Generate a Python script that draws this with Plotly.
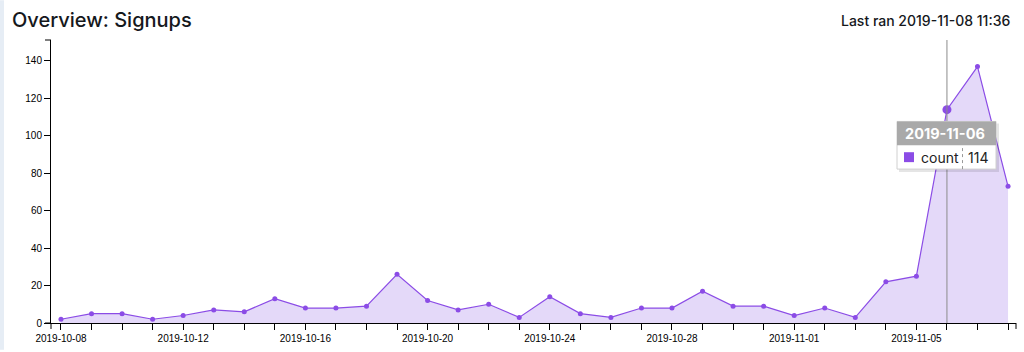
import plotly.graph_objects as go
import pandas as pd

dates = pd.date_range("2019-10-08", "2019-11-08", freq="D").strftime("%Y-%m-%d").tolist()
counts = [2, 5, 5, 2, 4, 7, 6, 13, 8, 8, 9, 26, 12, 7, 10, 3, 14, 5, 3, 8, 8, 17,
          9, 9, 4, 8, 3, 22, 25, 114, 137, 73]
hover_date = "2019-11-06"
hover_idx = dates.index(hover_date)

W, H = 1024, 352
L, R, T, B = 51, 8, 40, 27
PW, PH = W - L - R, H - T - B

def px(x):
    return (x - L) / PW

def py(y):
    return 1 - (y - T) / PH

LINE = "#8b4ce6"
FILL = "rgba(196,170,242,0.45)"
FONT = "Liberation Sans, Arial, sans-serif"
UI = "Inter, Roboto, sans-serif"

fig = go.Figure()
fig.add_trace(go.Scatter(
    x=dates, y=counts, mode="lines+markers", fill="tozeroy",
    fillcolor=FILL, line=dict(color=LINE, width=1.2),
    marker=dict(color=LINE, size=5), hoverinfo="skip", showlegend=False))
fig.add_trace(go.Scatter(
    x=[dates[hover_idx]], y=[counts[hover_idx]], mode="markers",
    marker=dict(color=LINE, size=9), hoverinfo="skip", showlegend=False))

shapes = []
# left strip
shapes.append(dict(type="rect", xref="paper", yref="paper", x0=px(0), x1=px(4),
                   y0=py(352), y1=py(0), fillcolor="#e6edf5", line_width=0, layer="below"))
# hover vertical line
shapes.append(dict(type="line", xref="x", yref="paper", x0=hover_date, x1=hover_date,
                   y0=0, y1=1, line=dict(color="#8c8c8c", width=1)))
# outer axis ticks (d3 style)
for s in [
    dict(x0=px(45), x1=0, y0=1, y1=1),
    dict(x0=px(45), x1=0, y0=0, y1=0),
    dict(x0=1, x1=1, y0=0, y1=py(331)),
    dict(x0=0, x1=0, y0=0, y1=py(331)),
]:
    shapes.append(dict(type="line", xref="paper", yref="paper", line=dict(color="#000", width=1), **s))

# tooltip
tx0, tx1, ty0, ty1, ty2 = 897, 996, 122, 146, 170
shapes.append(dict(type="rect", xref="paper", yref="paper", x0=px(tx0 + 2), x1=px(tx1 + 3),
                   y0=py(ty2 + 3), y1=py(ty0 + 2), fillcolor="rgba(0,0,0,0.10)", line_width=0))
shapes.append(dict(type="rect", xref="paper", yref="paper", x0=px(tx0), x1=px(tx1),
                   y0=py(ty2), y1=py(ty0), fillcolor="#ffffff", line=dict(color="#d0d0d0", width=1)))
shapes.append(dict(type="rect", xref="paper", yref="paper", x0=px(tx0), x1=px(tx1),
                   y0=py(ty1), y1=py(ty0), fillcolor="#a9a9a9", line_width=0))
shapes.append(dict(type="rect", xref="paper", yref="paper", x0=px(904), x1=px(914),
                   y0=py(163), y1=py(153), fillcolor=LINE, line_width=0))
shapes.append(dict(type="line", xref="paper", yref="paper", x0=px(962.5), x1=px(962.5),
                   y0=py(ty2), y1=py(ty1), line=dict(color="#999", width=1, dash="dot")))

annotations = [
    dict(text="Overview: Signups", xref="paper", yref="paper", x=px(10), y=py(20),
         xanchor="left", yanchor="middle", showarrow=False,
         font=dict(family=UI, size=20, color="#15181c", weight=500)),
    dict(text="Last ran 2019-11-08 11:36", xref="paper", yref="paper", x=px(1012), y=py(20),
         xanchor="right", yanchor="middle", showarrow=False,
         font=dict(family=UI, size=14, color="#15181c", weight=500)),
    dict(text="<b>" + hover_date + "</b>", xref="paper", yref="paper", x=px(903), y=py(134),
         xanchor="left", yanchor="middle", showarrow=False,
         font=dict(family=UI, size=14.5, color="#ffffff")),
    dict(text="count", xref="paper", yref="paper", x=px(919), y=py(158.5),
         xanchor="left", yanchor="middle", showarrow=False,
         font=dict(family=UI, size=14, color="#222")),
    dict(text=str(counts[hover_idx]), xref="paper", yref="paper", x=px(990), y=py(158.5),
         xanchor="right", yanchor="middle", showarrow=False,
         font=dict(family=UI, size=14, color="#222")),
]

fig.update_layout(
    width=W, height=H, autosize=False,
    margin=dict(l=L, r=R, t=T, b=B),
    plot_bgcolor="#ffffff", paper_bgcolor="#ffffff",
    shapes=shapes, annotations=annotations,
    xaxis=dict(
        type="date", range=["2019-10-07 16:10", "2019-11-08 06:15"],
        tick0="2019-10-08", dtick=4 * 86400000, tickformat="%Y-%m-%d",
        ticks="outside", ticklen=6, tickcolor="#000", showline=True, linecolor="#000",
        linewidth=1, showgrid=False, zeroline=False,
        tickfont=dict(family=FONT, size=10, color="#000"),
        minor=dict(dtick=86400000, tick0="2019-10-08", ticks="outside", ticklen=6,
                   tickcolor="#000", showgrid=False),
        fixedrange=True,
    ),
    yaxis=dict(
        range=[0, 151.2], dtick=20, ticks="outside", ticklen=6, tickcolor="#000",
        showline=True, linecolor="#000", linewidth=1, showgrid=False, zeroline=False,
        tickfont=dict(family=FONT, size=10, color="#000"), fixedrange=True,
    ),
)

fig.write_html("out.html")
